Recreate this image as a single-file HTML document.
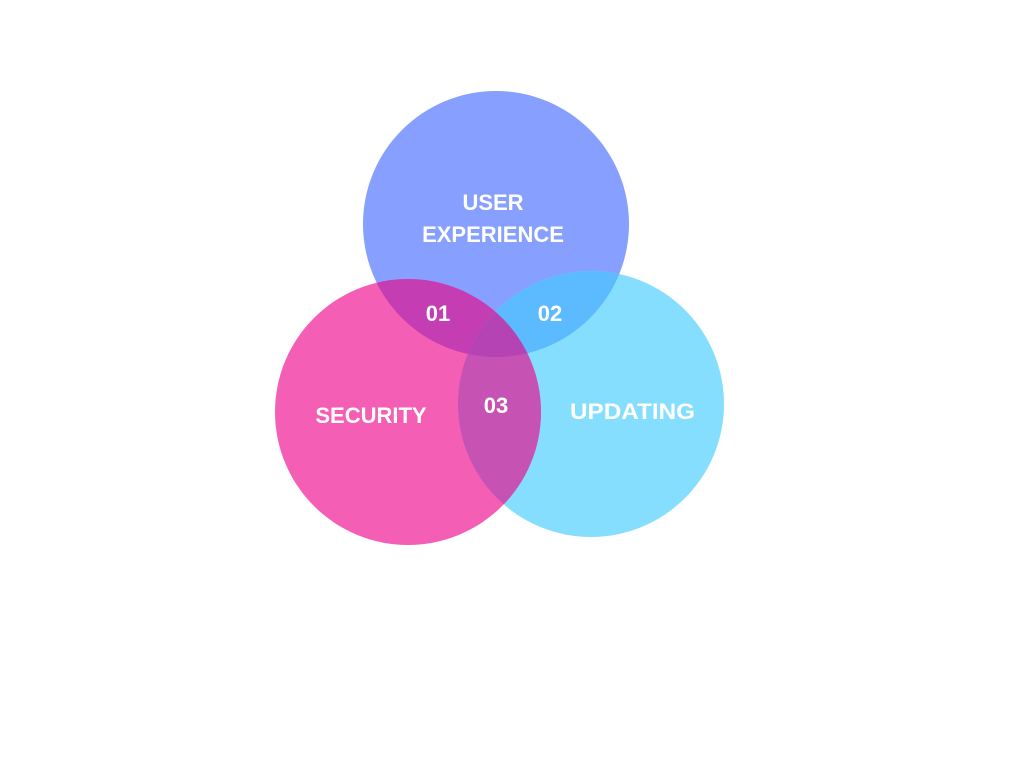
<!DOCTYPE html>
<html><head><meta charset="utf-8"><style>
html,body{margin:0;padding:0;background:#fff;width:1024px;height:768px;overflow:hidden}
text{font-family:"Liberation Sans",sans-serif;font-weight:bold;fill:#fff}
</style></head><body>
<svg width="1024" height="768" viewBox="0 0 1024 768">
<defs>
<clipPath id="cb"><circle cx="496" cy="224" r="133"/></clipPath>
<clipPath id="cl"><circle cx="591" cy="404" r="133"/></clipPath>
</defs>
<circle cx="496" cy="224" r="133" fill="#879FFF"/>
<circle cx="591" cy="404" r="133" fill="#86DEFF"/>
<circle cx="408" cy="412" r="133" fill="#F45FB5"/>
<g clip-path="url(#cb)">
<circle cx="408" cy="412" r="133" fill="#C53DB3"/>
<circle cx="591" cy="404" r="133" fill="#5CBBFF"/>
</g>
<g clip-path="url(#cl)">
<circle cx="408" cy="412" r="133" fill="#C652B3"/>
<g clip-path="url(#cb)"><circle cx="408" cy="412" r="133" fill="#B643B3"/></g>
</g>
<text x="493" y="210" font-size="22" text-anchor="middle">USER</text>
<text x="493" y="242" font-size="22" text-anchor="middle">EXPERIENCE</text>
<text x="438" y="321" font-size="22" text-anchor="middle">01</text>
<text x="550" y="321" font-size="22" text-anchor="middle">02</text>
<text x="496" y="413" font-size="22" text-anchor="middle">03</text>
<text x="371" y="423" font-size="22" text-anchor="middle">SECURITY</text>
<text x="570" y="419" font-size="22" textLength="125" lengthAdjust="spacingAndGlyphs">UPDATING</text>
</svg>
</body></html>
